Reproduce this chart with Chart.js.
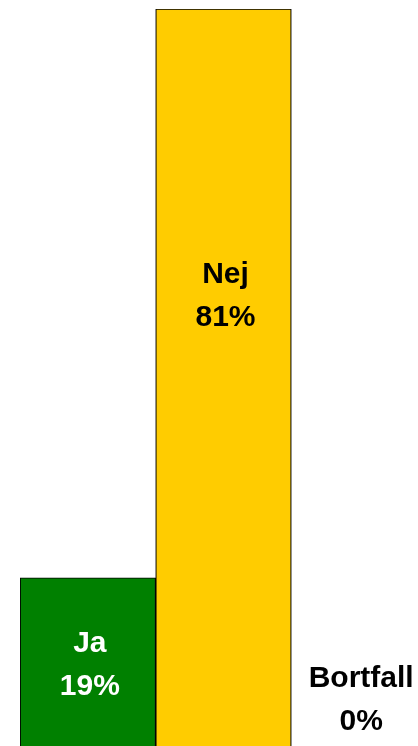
<!DOCTYPE html>
<html>
<head>
<meta charset="utf-8">
<script src="https://cdn.jsdelivr.net/npm/chart.js@4/dist/chart.umd.min.js"></script>
<style>
html,body{margin:0;padding:0;background:#fff;overflow:hidden;width:418px;height:746px;}
#wrap{position:absolute;left:0;top:0;width:440px;height:760px;}
</style>
</head>
<body>
<div id="wrap"><canvas id="c" width="440" height="760"></canvas></div>
<script>
const categories = ["Ja", "Nej", "Bortfall"];
const values = [19, 81, 0];
const percentLabels = ["19%", "81%", "0%"];
const barColors = ["#008000", "#FFCC00", "#FFFFFF"];
const textColors = ["#FFFFFF", "#000000", "#000000"];

const labelPlugin = {
  id: 'barLabels',
  afterDatasetsDraw(chart, args, opts) {
    const ctx = chart.ctx;
    const meta = chart.getDatasetMeta(0);
    const y = chart.scales.y;
    ctx.save();
    ctx.font = 'bold 30px "Liberation Sans", Arial, sans-serif';
    ctx.textAlign = 'center';
    ctx.textBaseline = 'middle';
    meta.data.forEach((bar, i) => {
      const v = values[i];
      const base = y.getPixelForValue(0);
      const top = y.getPixelForValue(v);
      let mid;
      if (v === 0) {
        mid = base - opts.zeroOffset;
      } else {
        mid = base - (base - top) * opts.anchors[i];
      }
      ctx.fillStyle = textColors[i];
      ctx.fillText(categories[i], bar.x + opts.dx, mid - opts.lineGap / 2);
      ctx.fillText(percentLabels[i], bar.x + opts.dx, mid + opts.lineGap / 2);
    });
    ctx.restore();
  }
};

new Chart(document.getElementById('c'), {
  type: 'bar',
  data: {
    labels: categories,
    datasets: [{
      data: values,
      backgroundColor: barColors,
      borderColor: '#000000',
      borderWidth: 1.2,
      borderSkipped: 'bottom',
      barPercentage: 1,
      categoryPercentage: 1
    }]
  },
  options: {
    responsive: false,
    animation: false,
    devicePixelRatio: 1,
    layout: { padding: { left: 20, top: 9, right: 13, bottom: 8 } },
    plugins: {
      legend: { display: false },
      tooltip: { enabled: false },
      barLabels: { anchors: [0.5, 0.613, 0], zeroOffset: 52, lineGap: 43, dx: 2 }
    },
    scales: {
      x: { display: false, offset: true, grid: { display: false } },
      y: { display: false, min: 0, max: 81 }
    }
  },
  plugins: [labelPlugin]
});
</script>
</body>
</html>
